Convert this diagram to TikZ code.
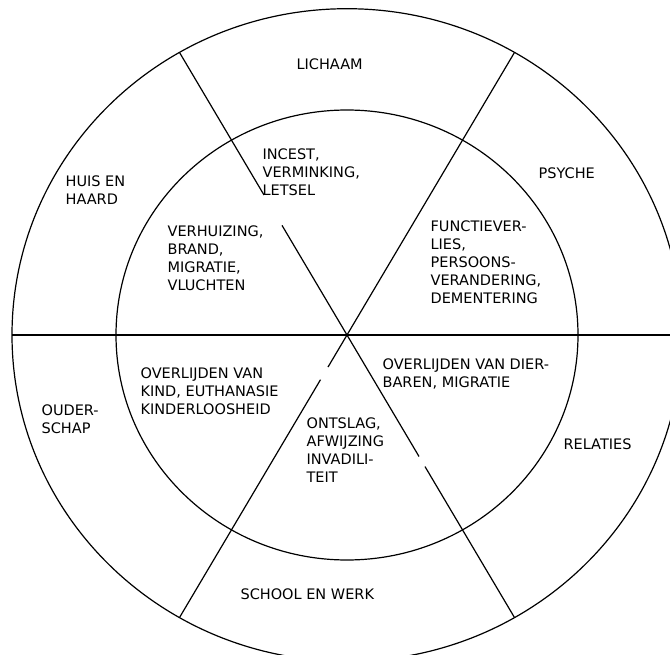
\documentclass[tikz,border=0pt]{standalone}
\usepackage{fontspec}
\setmainfont{DejaVu Sans}
\tikzset{lbl/.style={anchor=north west,inner sep=0pt,align=left,font=\fontsize{14.5}{18}\selectfont}}
\begin{document}
\begin{tikzpicture}[x=1pt,y=-1pt,line width=1.2pt]
\useasboundingbox (0,0) rectangle (670,655);
\clip (0,0) rectangle (670,655);
\begin{scope}[shift={(347,335)},yscale=-0.974]
\coordinate (c) at (0,0);
\foreach \a in {0,60,120,180,240,300} \coordinate (o\a) at (\a:335);
\coordinate (g120a) at (120:166);
\coordinate (g120b) at (120:130);
\coordinate (g240a) at (240:38);
\coordinate (g240b) at (240:53);
\coordinate (g300a) at (300:144);
\coordinate (g300b) at (300:156);
\draw (c) circle [radius=335];
\draw (c) circle [radius=231];
\draw (o180) -- (o0);
\draw (o60) -- (c) -- (g240a);
\draw (g240b) -- (o240);
\draw (o120) -- (g120a);
\draw (g120b) -- (c) -- (g300a);
\draw (g300b) -- (o300);
\end{scope}
\node[lbl] (lichaam) at (296,58) {LICHAAM};
\node[lbl] (huis) at (65,175) {HUIS EN\\HAARD};
\node[lbl] (incest) at (262,148) {INCEST,\\VERMINKING,\\LETSEL};
\node[lbl] (verhuizing) at (167,225) {VERHUIZING,\\BRAND,\\MIGRATIE,\\VLUCHTEN};
\node[lbl] (psyche) at (538,167) {PSYCHE};
\node[lbl] (functie) at (430,220) {FUNCTIEVER-\\LIES,\\PERSOONS-\\VERANDERING,\\DEMENTERING};
\node[lbl] (dierbaren) at (382,358) {OVERLIJDEN VAN DIER-\\BAREN, MIGRATIE};
\node[lbl] (relaties) at (563,438) {RELATIES};
\node[lbl] (kind) at (140,367) {OVERLIJDEN VAN\\KIND, EUTHANASIE\\KINDERLOOSHEID};
\node[lbl] (ouderschap) at (41,404) {OUDER-\\SCHAP};
\node[lbl] (ontslag) at (306,417) {ONTSLAG,\\AFWIJZING\\INVADILI-\\TEIT};
\node[lbl] (school) at (240,588) {SCHOOL EN WERK};
\end{tikzpicture}
\end{document}
